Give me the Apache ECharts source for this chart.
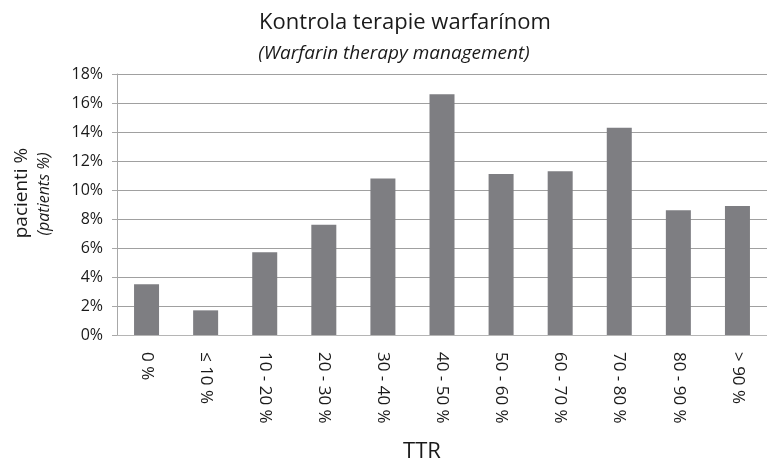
<!DOCTYPE html>
<html>
<head>
<meta charset="utf-8">
<script src="https://cdn.jsdelivr.net/npm/echarts@6/dist/echarts.min.js"></script>
<style>
  html, body { margin: 0; padding: 0; background: #fff; }
  #drew { width: 767px; height: 463px; }
</style>
</head>
<body>
<div id="drew"></div>
<script>
   var categories = ['0 %', '\u2264 10 %', '10 - 20 %', '20 - 30 %', '30 - 40 %', '40 - 50 %',
       '50 - 60 %', '60 - 70 %', '70 - 80 %', '80 - 90 %', '> 90 %'];
   var patients = [3.5, 1.7, 5.7, 7.6, 10.8, 16.6, 11.1, 11.3, 14.3, 8.6, 8.9];

   var font = '"Open Sans", "Liberation Sans", sans-serif';
   var ink = '#1a1a1a';
   var myChart = echarts.init(document.getElementById('drew'));
   var option = {
       backgroundColor: '#fff',
       textStyle: { fontFamily: font, color: ink },
       grid: { left: 117, width: 660, top: 74, height: 261 },
       graphic: [{
           type: 'text', x: 405, y: 23,
           style: { text: 'Kontrola terapie warfarínom', font: '22px ' + font, fill: ink, align: 'center', verticalAlign: 'middle' }
       }, {
           type: 'text', x: 394, y: 54,
           style: { text: '(Warfarin therapy management)', font: 'italic 19px ' + font, fill: ink, align: 'center', verticalAlign: 'middle' }
       }, {
           type: 'text', x: 422, y: 452,
           style: { text: 'TTR', font: '22px ' + font, fill: ink, align: 'center', verticalAlign: 'middle' }
       }, {
           type: 'text', x: 22, y: 193, rotation: Math.PI / 2,
           style: { text: 'pacienti %', font: '19px ' + font, fill: ink, align: 'center', verticalAlign: 'middle' }
       }, {
           type: 'text', x: 44, y: 194, rotation: Math.PI / 2,
           style: { text: '(patients %)', font: 'italic 16px ' + font, fill: ink, align: 'center', verticalAlign: 'middle' }
       }],
       xAxis: {
           type: 'category',
           data: categories,
           axisLine: { lineStyle: { color: '#b5b5b5', width: 1 } },
           axisTick: { length: 7, lineStyle: { color: '#b5b5b5' } },
           axisLabel: { rotate: -90, margin: 17, fontSize: 17, color: ink, fontFamily: font }
       },
       yAxis: {
           type: 'value',
           min: 0, max: 18, interval: 2,
           axisLine: { show: true, lineStyle: { color: '#a8a8a8' } },
           axisTick: { show: true, length: 5, lineStyle: { color: '#a8a8a8' } },
           axisLabel: { formatter: '{value}%', margin: 14, fontSize: 16, color: ink, fontFamily: font },
           splitLine: { lineStyle: { color: '#a0a0a0', width: 1 } }
       },
       series: [{
           type: 'bar',
           data: patients,
           barWidth: 25,
           itemStyle: { color: '#7e7e82' }
       }]
   };
   myChart.setOption(option);
</script>
</body>
</html>
